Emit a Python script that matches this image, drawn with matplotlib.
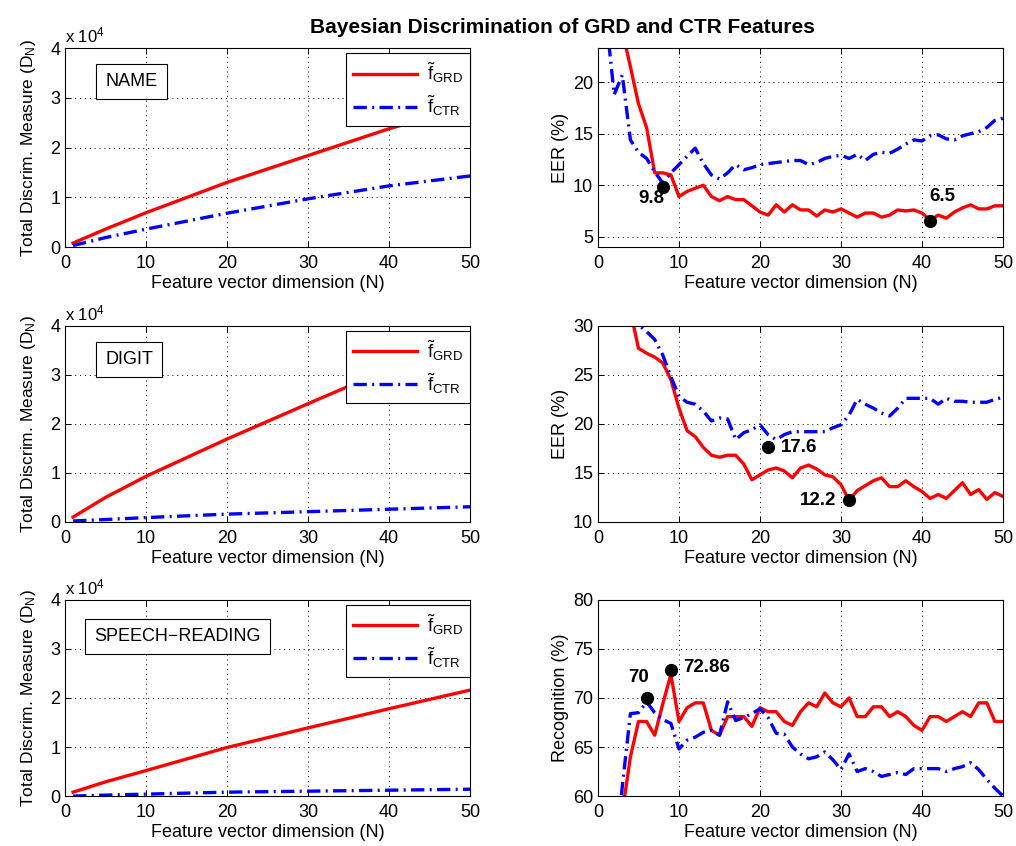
import matplotlib
matplotlib.use("Agg")
import matplotlib.pyplot as plt
import numpy as np

plt.rcParams["font.family"] = ["Liberation Sans", "DejaVu Sans"]
plt.rcParams["font.size"] = 13
plt.rcParams["mathtext.fontset"] = "custom"
plt.rcParams["mathtext.rm"] = "Liberation Sans"
plt.rcParams["mathtext.it"] = "Liberation Sans:italic"
plt.rcParams["mathtext.default"] = "regular"

# ---- left column: total discrimination measure (units of 1e4) ----
n_coarse = [1, 5, 10, 20, 30, 40, 50]
name_grd = [0.08, 0.36, 0.69, 1.30, 1.84, 2.38, 2.84]
name_ctr = [0.03, 0.19, 0.36, 0.68, 0.97, 1.23, 1.43]
digit_grd = [0.10, 0.50, 0.93, 1.69, 2.41, 3.12, 3.79]
digit_ctr = [0.02, 0.05, 0.09, 0.16, 0.21, 0.26, 0.31]
speech_grd = [0.08, 0.29, 0.52, 0.99, 1.39, 1.78, 2.16]
speech_ctr = [0.00, 0.02, 0.04, 0.08, 0.10, 0.12, 0.14]

# ---- right column: EER / recognition vs N = 1..50 ----
n_dim = list(range(1, 51))
name_eer_grd = [30.0, 27.0, 25.0, 21.5, 17.9, 15.6, 11.2, 11.2, 11.0, 8.9,
                9.4, 9.7, 10.0, 8.9, 8.5, 8.9, 8.6, 8.6, 8.0, 7.4,
                7.1, 8.1, 7.4, 8.1, 7.6, 7.6, 7.0, 7.6, 7.4, 7.7,
                7.3, 6.9, 7.3, 7.3, 6.9, 7.1, 7.6, 7.5, 7.6, 7.3,
                6.6, 7.1, 6.8, 7.4, 7.8, 8.1, 7.7, 7.7, 8.0, 8.0]
name_eer_ctr = [26.3, 18.8, 20.7, 14.4, 13.2, 12.6, 11.3, 10.2, 11.2, 12.0,
                12.8, 13.6, 12.1, 11.0, 10.6, 11.2, 12.0, 11.5, 11.7, 12.0,
                12.1, 12.2, 12.3, 12.4, 12.4, 12.0, 12.2, 12.6, 12.8, 12.9,
                12.6, 13.0, 12.4, 13.0, 13.2, 13.1, 13.5, 14.0, 14.4, 14.3,
                14.8, 14.9, 14.5, 14.4, 14.8, 15.0, 15.2, 15.6, 16.3, 16.5]
digit_eer_grd = [38.0, 36.0, 34.0, 31.5, 27.7, 27.2, 26.8, 26.2, 24.5, 21.6,
                 19.3, 18.7, 17.6, 16.8, 16.6, 16.8, 16.8, 15.9, 14.3, 14.8,
                 15.3, 15.5, 15.2, 14.5, 15.5, 15.8, 15.4, 14.8, 14.6, 13.8,
                 12.2, 13.2, 13.7, 14.2, 14.5, 13.6, 13.6, 14.2, 13.6, 13.1,
                 12.4, 12.8, 12.4, 13.2, 14.0, 12.8, 13.3, 12.3, 13.0, 12.6]
digit_eer_ctr = [36.0, 34.0, 32.5, 31.0, 30.1, 29.4, 28.6, 27.0, 24.8, 22.8,
                 22.2, 22.0, 21.3, 20.3, 20.6, 20.5, 18.4, 19.1, 19.4, 19.9,
                 18.9, 18.4, 18.9, 19.2, 19.2, 19.2, 19.2, 19.2, 19.6, 19.9,
                 20.9, 22.5, 22.0, 21.6, 21.1, 20.8, 21.6, 22.6, 22.6, 22.6,
                 22.6, 22.0, 22.6, 22.3, 22.3, 22.2, 22.2, 22.2, 22.5, 22.7]
speech_rec_grd = [52.0, 55.0, 58.3, 64.0, 67.6, 67.6, 66.2, 69.4, 72.4, 67.6,
                  69.0, 69.5, 69.5, 66.7, 66.2, 68.1, 68.1, 68.1, 67.1, 69.0,
                  68.6, 68.6, 67.6, 67.2, 68.6, 69.5, 69.1, 70.5, 69.5, 69.1,
                  70.0, 68.1, 68.1, 69.1, 69.1, 68.1, 68.6, 68.1, 67.2, 66.7,
                  68.1, 68.1, 67.6, 68.1, 68.6, 68.1, 69.5, 69.5, 67.6, 67.6]
speech_rec_ctr = [48.0, 52.0, 61.0, 68.4, 68.5, 69.6, 68.5, 67.8, 67.4, 64.8,
                  65.7, 66.0, 66.5, 66.7, 66.2, 69.6, 67.7, 68.0, 68.4, 68.9,
                  68.0, 66.4, 66.3, 65.0, 64.3, 63.8, 64.0, 64.5, 63.7, 62.7,
                  64.3, 62.5, 62.8, 62.5, 62.0, 62.2, 62.4, 62.2, 62.8, 62.8,
                  62.8, 62.8, 62.5, 62.8, 63.0, 63.4, 62.7, 61.7, 60.8, 60.0]

# highlighted optima: (N, value, label)
name_marks = [(8, 9.8, "9.8"), (41, 6.5, "6.5")]
digit_marks = [(21, 17.6, "17.6"), (31, 12.2, "12.2")]
speech_marks = [(6, 70.0, "70"), (9, 72.86, "72.86")]

RED = "#ff0000"
BLUE = "#0000ff"
DASHDOT = (0, (4, 1.6, 0.6, 1.6))

fig = plt.figure(figsize=(10.16, 8.46), dpi=100)
L, R, W = 65 / 1016, 598 / 1016, 405 / 1016
rows = [(0.708, 0.235), (0.383, 0.232), (0.059, 0.232)]


def style(ax, ylim, yticks):
    ax.set_xlim(0, 50)
    ax.set_ylim(*ylim)
    ax.set_xticks([0, 10, 20, 30, 40, 50])
    ax.set_yticks(yticks)
    ax.tick_params(direction="in", top=True, right=True, length=4, width=0.7,
                   labelsize=13)
    ax.tick_params(axis="x", pad=6)
    ax.grid(True, color="black", linestyle=(0, (1, 4)), linewidth=0.7)
    for s in ax.spines.values():
        s.set_linewidth(0.8)
    ax.set_xlabel("Feature vector dimension (N)", fontsize=13, labelpad=2)


left_data = [("NAME", name_grd, name_ctr, (8.2, 3.33)),
             ("DIGIT", digit_grd, digit_ctr, (7.9, 3.32)),
             ("SPEECH\u2212READING", speech_grd, speech_ctr, (13.9, 3.25))]

for (bot, h), (lab, grd, ctr, pos) in zip(rows, left_data):
    ax = fig.add_axes([L, bot, W, h])
    ax.plot(n_coarse, grd, color=RED, lw=2.4, label=r"$\tilde{f}_{GRD}$")
    ax.plot(n_coarse, ctr, color=BLUE, lw=2.4, linestyle=DASHDOT,
            label=r"$\tilde{f}_{CTR}$")
    style(ax, (0, 4), [0, 1, 2, 3, 4])
    ax.set_ylabel(r"Total Discrim. Measure (D$_N$)", fontsize=12.5, labelpad=9)
    ax.text(0, 1.012, r"x 10$^4$", transform=ax.transAxes, ha="left", va="bottom",
            fontsize=12)
    ax.text(pos[0], pos[1], lab, ha="center", va="center", fontsize=13,
            bbox=dict(boxstyle="square,pad=0.5", fc="white", ec="black", lw=0.8))
    leg = ax.legend(loc="upper right", bbox_to_anchor=(1.0, 0.975), borderaxespad=0,
                    fancybox=False, edgecolor="black", framealpha=1,
                    handlelength=3.4, labelspacing=0.45, borderpad=0.4,
                    handletextpad=0.5, fontsize=13.5)
    leg.get_frame().set_linewidth(0.8)

right_data = [(name_eer_grd, name_eer_ctr, (4.0, 23.3), [5, 10, 15, 20], "EER (%)",
               name_marks, [((-8, -8), "center"), ((9, 18), "center")]),
              (digit_eer_grd, digit_eer_ctr, (10, 30), [10, 15, 20, 25, 30], "EER (%)",
               digit_marks, [((9, 0), "left"), ((-9, 0), "right")]),
              (speech_rec_grd, speech_rec_ctr, (60, 80), [60, 65, 70, 75, 80],
               "Recognition (%)", speech_marks, [((-6, 15), "center"), ((9, 2), "left")])]

for (bot, h), (grd, ctr, ylim, yt, ylab, marks, offs) in zip(rows, right_data):
    ax = fig.add_axes([R, bot, W, h])
    ax.plot(n_dim, grd, color=RED, lw=2.4)
    ax.plot(n_dim, ctr, color=BLUE, lw=2.4, linestyle=DASHDOT)
    style(ax, ylim, yt)
    ax.set_ylabel(ylab, fontsize=13, labelpad=3)
    for (mx, my, txt), (off, ha) in zip(marks, offs):
        ax.plot([mx], [my], "o", color="black", ms=8.5, zorder=5)
        ax.annotate(txt, (mx, my), xytext=off, textcoords="offset points",
                    ha=ha, va="center", fontweight="bold", fontsize=13.5)

fig.text(0.554, 0.967, "Bayesian Discrimination of GRD and CTR Features",
         ha="center", va="center", fontweight="bold", fontsize=15)

fig.savefig("out.png", dpi=100)
